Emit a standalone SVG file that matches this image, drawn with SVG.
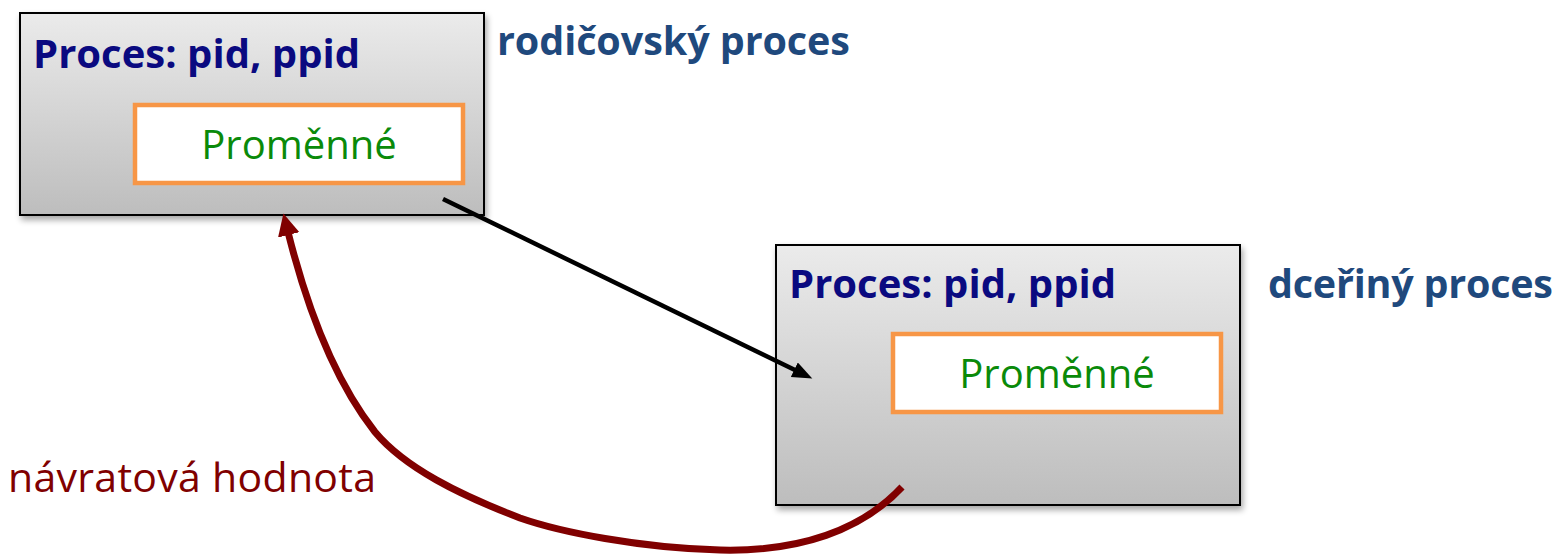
<svg xmlns="http://www.w3.org/2000/svg" width="1558" height="554" viewBox="0 0 1558 554">
<style>
.box{fill:url(#g);stroke:#000;stroke-width:2;filter:url(#sh)}
.inner{fill:#fff;stroke:#F79646;stroke-width:4.5}
.title{font-family:"Open Sans",sans-serif;font-weight:bold;font-size:40px;fill:#0A0A80}
.side{font-family:"Open Sans",sans-serif;font-weight:bold;font-size:39.5px;fill:#1F497D}
.var{font-family:"Open Sans",sans-serif;font-size:40px;fill:#0A8A0A;text-anchor:middle}
.ret{font-family:"Open Sans",sans-serif;font-size:41px;fill:#800000}
</style>
<defs>
<linearGradient id="g" x1="0" y1="0" x2="0" y2="1">
<stop offset="0" stop-color="#EBEBEB"/>
<stop offset="1" stop-color="#BDBDBD"/>
</linearGradient>
<filter id="sh" x="-5%" y="-5%" width="115%" height="125%">
<feGaussianBlur in="SourceAlpha" stdDeviation="3"/>
<feOffset dx="2" dy="4" result="b"/>
<feComponentTransfer><feFuncA type="linear" slope="0.35"/></feComponentTransfer>
<feMerge><feMergeNode/><feMergeNode in="SourceGraphic"/></feMerge>
</filter>
<marker id="ab" markerUnits="userSpaceOnUse" markerWidth="24" markerHeight="20" refX="3" refY="8" orient="auto">
<path d="M0,0 L20,8 L0,16 z" fill="#000"/>
</marker>
<marker id="ar" markerUnits="userSpaceOnUse" markerWidth="26" markerHeight="26" refX="3" refY="11" orient="auto">
<path d="M0,0 L22,11 L0,22 z" fill="#800000"/>
</marker>
</defs>
<g id="parent">
<rect class="box" x="20" y="13" width="464" height="202"/>
<text class="title" x="33" y="68" textLength="327">Proces: pid, ppid</text>
<rect class="inner" x="135" y="105" width="328" height="78"/>
<text class="var" x="299" y="159">Proměnné</text>
</g>
<g id="parent-label"><text class="side" x="497" y="55" textLength="353">rodičovský proces</text></g>
<g id="child">
<rect class="box" x="776" y="245" width="464" height="260"/>
<text class="title" x="789" y="298" textLength="327">Proces: pid, ppid</text>
<rect class="inner" x="893" y="334" width="328" height="78"/>
<text class="var" x="1057" y="388">Proměnné</text>
</g>
<g id="child-label"><text class="side" x="1268" y="298" textLength="285">dceřiný proces</text></g>
<g id="return-label"><text class="ret" x="8" y="492" textLength="368">návratová hodnota</text></g>
<g id="connectors" fill="none">
<line x1="443" y1="199" x2="797" y2="371" stroke="#000" stroke-width="4.5" marker-end="url(#ab)"/>
<path d="M902,487 C862,530 800,552 720,550 C640,548 560,532 520,518 C460,495 405,468 375,432 C338,385 310,320 288,232" stroke="#800000" stroke-width="7" marker-end="url(#ar)"/>
</g>
</svg>
